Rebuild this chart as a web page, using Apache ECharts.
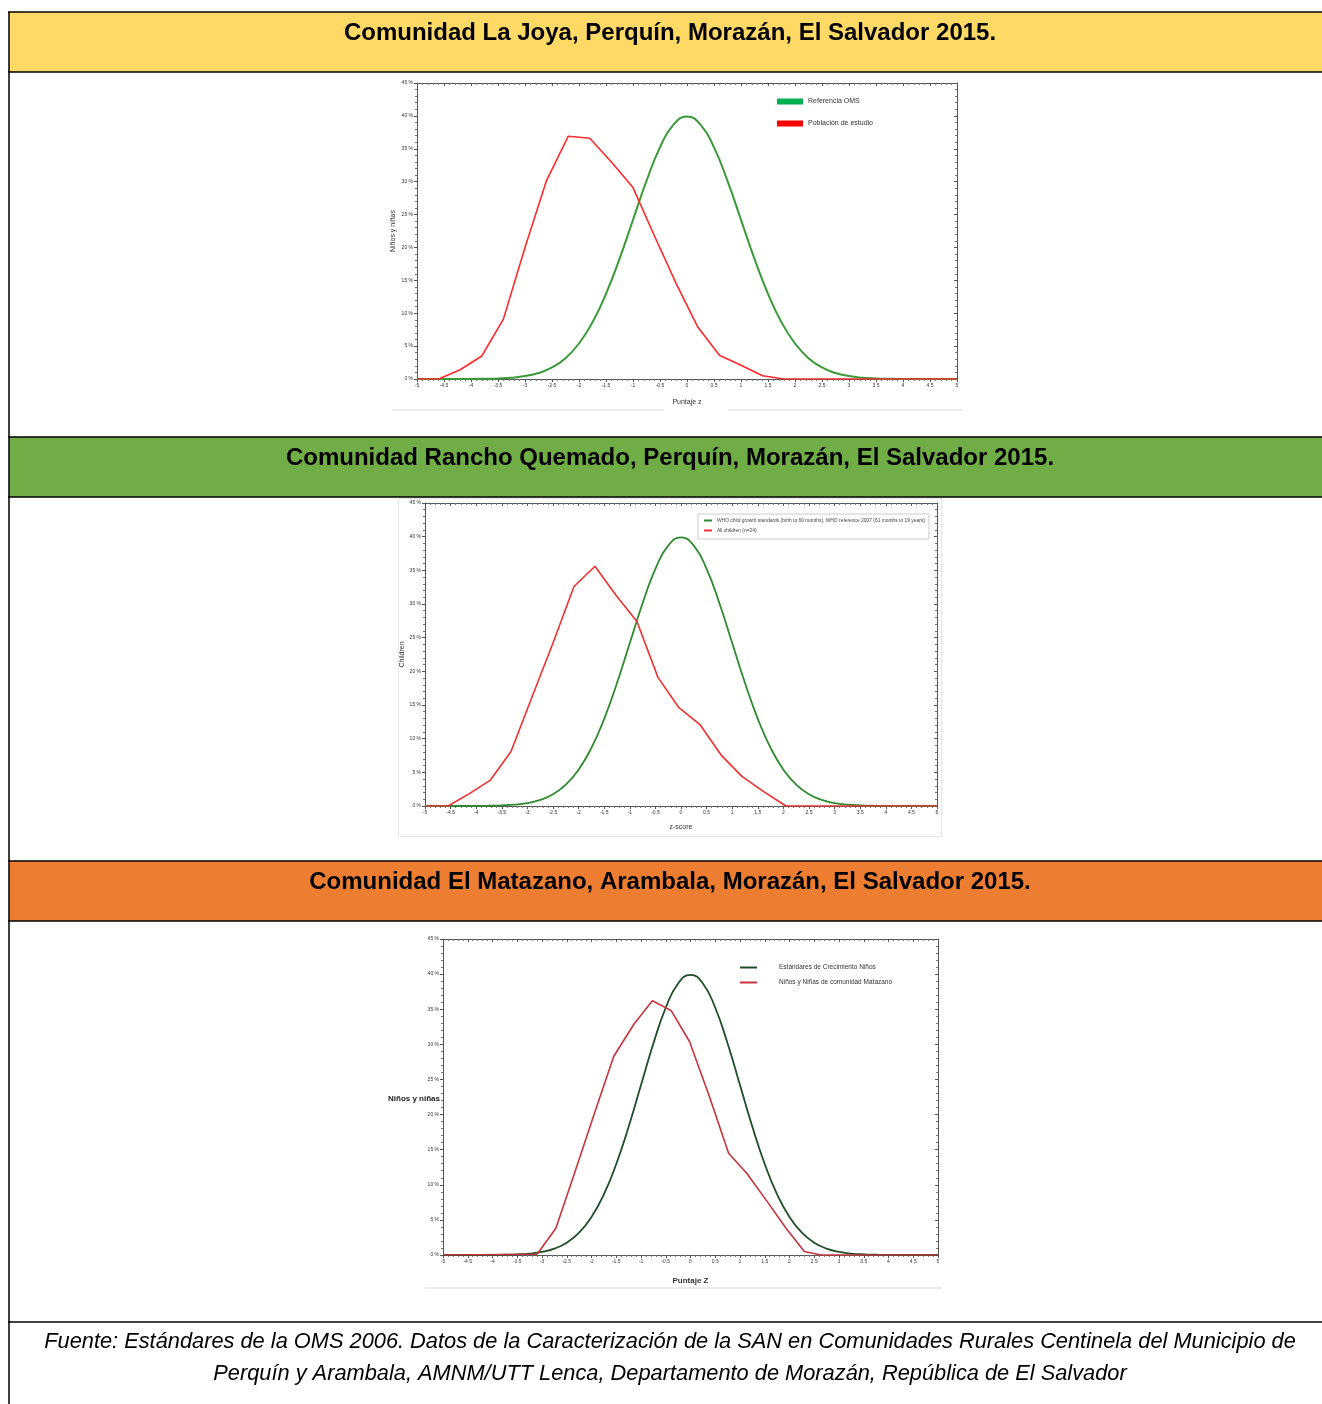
<!DOCTYPE html>
<html>
<head>
<meta charset="utf-8">
<script src="https://cdn.jsdelivr.net/npm/echarts@6/dist/echarts.min.js"></script>
<style>
  html, body { margin: 0; padding: 0; background: #fff; }
  #main { width: 1322px; height: 1404px; }
</style>
</head>
<body>
<div id="main"></div>
<script>
// WHO reference curve (same in the three panels), [z, %]
const whoRef = [
  [-5, 0], [-4.5, 0], [-4, 0.01], [-3.75, 0.04], [-3.5, 0.09], [-3.25, 0.2], [-3, 0.44],
  [-2.75, 0.91], [-2.5, 1.75], [-2.25, 3.17], [-2, 5.4], [-1.75, 8.63], [-1.5, 12.95],
  [-1.25, 18.26], [-1, 24.2], [-0.75, 30.11], [-0.5, 35.21], [-0.25, 38.67], [0, 39.89],
  [0.25, 38.67], [0.5, 35.21], [0.75, 30.11], [1, 24.2], [1.25, 18.26], [1.5, 12.95],
  [1.75, 8.63], [2, 5.4], [2.25, 3.17], [2.5, 1.75], [2.75, 0.91], [3, 0.44], [3.25, 0.2],
  [3.5, 0.09], [3.75, 0.04], [4, 0.01], [4.5, 0], [5, 0]
];
// La Joya study population
const joyaStudy = [
  [-5, 0], [-4.6, 0], [-4.2, 1.4], [-3.8, 3.5], [-3.4, 9.1], [-3.0, 20.0], [-2.6, 30.2],
  [-2.2, 36.9], [-1.8, 36.6], [-1.4, 33.0], [-1.0, 29.1], [-0.6, 21.7], [-0.2, 14.5],
  [0.2, 7.9], [0.6, 3.6], [1.0, 2.1], [1.4, 0.5], [1.8, 0], [5, 0]
];
// Rancho Quemado, all children
const ranchoStudy = [
  [-5, 0], [-4.55, 0], [-4.14, 1.8], [-3.73, 3.8], [-3.32, 8.1], [-2.91, 16.2], [-2.5, 24.2],
  [-2.09, 32.6], [-1.68, 35.6], [-1.27, 31.3], [-0.86, 27.4], [-0.45, 19.1], [-0.04, 14.6],
  [0.37, 12.1], [0.78, 7.6], [1.19, 4.4], [1.6, 2.2], [2.05, 0], [5, 0]
];
// El Matazano
const matazanoStudy = [
  [-5, 0], [-3.1, 0.1], [-2.72, 3.8], [-2.34, 11.7], [-1.93, 20.4], [-1.55, 28.3],
  [-1.14, 32.9], [-0.77, 36.2], [-0.39, 34.8], [-0.02, 30.4], [0.38, 22.6], [0.77, 14.5],
  [1.14, 11.6], [1.55, 7.6], [1.93, 3.8], [2.3, 0.5], [2.64, 0], [5, 0]
];

const headers = [
  'Comunidad La Joya, Perquín, Morazán, El Salvador 2015.',
  'Comunidad Rancho Quemado, Perquín, Morazán, El Salvador 2015.',
  'Comunidad El Matazano, Arambala, Morazán, El Salvador 2015.'
];
const headerColors = ['#FFD966', '#70AD47', '#ED7D31'];
const footer = [
  'Fuente: Estándares de la OMS 2006. Datos de la Caracterización de la SAN en Comunidades Rurales Centinela del Municipio de',
  'Perquín y Arambala, AMNM/UTT Lenca, Departamento de Morazán, República de El Salvador'
];

const SANS = '"Liberation Sans", Arial, sans-serif';
const chart = echarts.init(document.getElementById('main'));

const grids = [
  { left: 417, top: 83, width: 540, height: 296 },
  { left: 425, top: 503, width: 512, height: 303 },
  { left: 443, top: 939, width: 495, height: 316 }
];

let xAxes = [], yAxes = [];
const axisName = [
  { x: 'Puntaje z', xGap: 20, y: 'Niños y niñas', yGap: 20 },
  { x: 'z-score', xGap: 18, y: 'Children', yGap: 17 },
  { x: 'Puntaje Z', xGap: 22, y: '', yGap: 20 }
];
grids.forEach((g, i) => {
  const line = { show: true, onZero: false, lineStyle: { color: '#555', width: 1 } };
  xAxes.push({
    gridIndex: i, type: 'value', min: -5, max: 5, interval: 0.5,
    name: axisName[i].x, nameLocation: 'middle', nameGap: axisName[i].xGap,
    nameTextStyle: { fontSize: i === 2 ? 8 : 7, color: '#333', fontWeight: i === 2 ? 'bold' : 'normal' },
    axisLine: line,
    axisTick: { length: 3, lineStyle: { color: '#555' } },
    minorTick: { show: true, splitNumber: 5, length: 2, lineStyle: { color: '#777' } },
    axisLabel: { fontSize: 5, color: '#333', margin: 4, showMinLabel: true, showMaxLabel: true },
    splitLine: { show: false }
  });
  xAxes.push({
    gridIndex: i, type: 'value', min: -5, max: 5, interval: 0.5, position: 'top',
    axisLine: line,
    axisTick: { inside: true, length: 3, lineStyle: { color: '#555' } },
    minorTick: { show: true, splitNumber: 5, length: 2, lineStyle: { color: '#777' } },
    axisLabel: { show: false }, splitLine: { show: false }
  });
  yAxes.push({
    gridIndex: i, type: 'value', min: 0, max: 45, interval: 5, position: 'left',
    name: axisName[i].y, nameLocation: 'middle', nameGap: axisName[i].yGap,
    nameTextStyle: { fontSize: 7, color: '#333' },
    axisLine: line,
    axisTick: { show: true, length: 3, lineStyle: { color: '#555' } },
    minorTick: { show: true, splitNumber: 5, length: 2, lineStyle: { color: '#777' } },
    axisLabel: { fontSize: 5, color: '#333', margin: 4, formatter: v => v + ' %' },
    splitLine: { show: false }
  });
  yAxes.push({
    gridIndex: i, type: 'value', min: 0, max: 45, interval: 5, position: 'right',
    axisLine: line,
    axisTick: { show: true, inside: true, length: 3, lineStyle: { color: '#555' } },
    minorTick: { show: true, splitNumber: 5, length: 2, lineStyle: { color: '#777' } },
    axisLabel: { show: false }, splitLine: { show: false }
  });
});

const seriesDefs = [
  { name: 'Referencia OMS', g: 0, data: whoRef, color: '#3a9a3a', w: 2, smooth: true },
  { name: 'Población de estudio', g: 0, data: joyaStudy, color: '#ff2a2a', w: 1.6, smooth: false },
  { name: 'WHO child growth standards (birth to 60 months), WHO reference 2007 (61 months to 19 years)', g: 1, data: whoRef, color: '#2f8a2f', w: 1.8, smooth: true },
  { name: 'All children (n=24)', g: 1, data: ranchoStudy, color: '#f03030', w: 1.6, smooth: false },
  { name: 'Estándares de Crecimiento Niños', g: 2, data: whoRef, color: '#1f4f28', w: 1.8, smooth: true },
  { name: 'Niños y Niñas de comunidad Matazano', g: 2, data: matazanoStudy, color: '#c8323c', w: 1.6, smooth: false }
];
const series = seriesDefs.map(s => ({
  name: s.name, type: 'line', xAxisIndex: s.g * 2, yAxisIndex: s.g * 2,
  data: s.data, smooth: s.smooth, showSymbol: false, symbol: 'none',
  lineStyle: { color: s.color, width: s.w }, itemStyle: { color: s.color },
  z: s.smooth ? 2 : 3
}));

const legends = [
  {
    left: 772, top: 93, orient: 'vertical', itemGap: 15, itemWidth: 26, itemHeight: 6, icon: 'rect',
    textStyle: { fontSize: 7, color: '#333' },
    data: [
      { name: 'Referencia OMS', itemStyle: { color: '#00b050' } },
      { name: 'Población de estudio', itemStyle: { color: '#ff0000' } }
    ]
  },
  {
    left: 698, top: 514, orient: 'vertical', itemGap: 5, itemWidth: 8, itemHeight: 2, icon: 'rect',
    padding: [4, 4, 6, 6], borderColor: '#ccc', borderWidth: 1,
    textStyle: { fontSize: 4.9, color: '#444' },
    data: [seriesDefs[2].name, seriesDefs[3].name]
  },
  {
    left: 735, top: 959, orient: 'vertical', itemGap: 8, itemWidth: 17, itemHeight: 2, icon: 'rect',
    textStyle: { fontSize: 6.5, color: '#333', padding: [0, 0, 0, 17] },
    data: [seriesDefs[4].name, seriesDefs[5].name]
  }
];

// table frame and text
const graphic = [];
const bandTops = [12, 437, 861];
bandTops.forEach((t, i) => {
  graphic.push({ type: 'rect', shape: { x: 9, y: t, width: 1313, height: 60 }, style: { fill: headerColors[i] }, z: -1 });
  graphic.push({
    type: 'text', x: 670, y: t + 21,
    style: { text: headers[i], font: 'bold 24px ' + SANS, fill: '#000', textAlign: 'center', textVerticalAlign: 'middle', align: 'center', verticalAlign: 'middle' }
  });
});
[12, 72, 437, 497, 861, 921, 1322].forEach(y => {
  graphic.push({ type: 'line', shape: { x1: 8, y1: y, x2: 1322, y2: y }, style: { stroke: '#000', lineWidth: 1.5 } });
});
graphic.push({ type: 'line', shape: { x1: 9, y1: 12, x2: 9, y2: 1404 }, style: { stroke: '#000', lineWidth: 1.5 } });
// faint frame lines of the pasted pictures
graphic.push({ type: 'line', shape: { x1: 392, y1: 410, x2: 664, y2: 410 }, style: { stroke: '#e6e6e6', lineWidth: 1.5 } });
graphic.push({ type: 'line', shape: { x1: 728, y1: 410, x2: 962, y2: 410 }, style: { stroke: '#e6e6e6', lineWidth: 1.5 } });
graphic.push({ type: 'rect', shape: { x: 398.5, y: 498.5, width: 543, height: 338 }, style: { fill: 'none', stroke: '#e6e6e6', lineWidth: 1 } });
graphic.push({ type: 'line', shape: { x1: 425, y1: 1288, x2: 942, y2: 1288 }, style: { stroke: '#e6e6e6', lineWidth: 1.5 } });
// horizontal y name of the third panel
graphic.push({
  type: 'text', x: 440, y: 1099,
  style: { text: 'Niños y niñas', font: 'bold 8px ' + SANS, fill: '#222', textAlign: 'right', textVerticalAlign: 'middle', align: 'right', verticalAlign: 'middle' }
});
footer.forEach((line, i) => {
  graphic.push({
    type: 'text', x: 670, y: 1342 + i * 32,
    style: { text: line, font: 'italic 21.8px ' + SANS, fill: '#000', textAlign: 'center', textVerticalAlign: 'middle', align: 'center', verticalAlign: 'middle' }
  });
});

chart.setOption({
  animation: false,
  backgroundColor: '#fff',
  grid: grids,
  xAxis: xAxes,
  yAxis: yAxes,
  legend: legends,
  series: series,
  graphic: graphic
});
</script>
</body>
</html>
